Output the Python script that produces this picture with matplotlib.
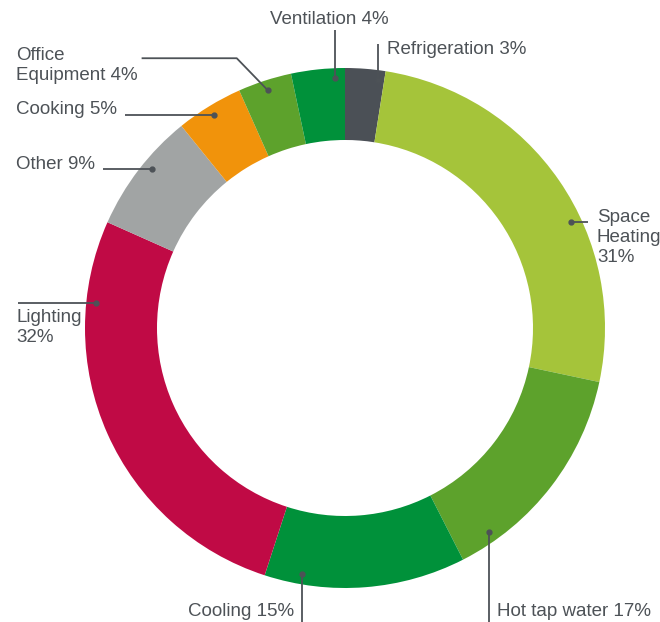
import numpy as np
import matplotlib.pyplot as plt

plt.rcParams['font.family'] = ['Liberation Sans', 'DejaVu Sans']

# energy end uses, clockwise from 12 o'clock
uses = ['Refrigeration', 'Space\nHeating', 'Hot tap water', 'Cooling', 'Lighting',
        'Other', 'Cooking', 'Office\nEquipment', 'Ventilation']
shares = [3, 31, 17, 15, 32, 9, 5, 4, 4]
# what goes between the name and its percentage
joins = [' ', '\n', ' ', ' ', '\n', ' ', ' ', ' ', ' ']
colors = ['#4b5056', '#a5c43a', '#5da22c', '#00913a', '#c00a45',
          '#a1a4a4', '#f1930b', '#5da22c', '#00913a']

# (leader style, where along the wedge the leader starts)
layout = [('up', 0.83), ('right', 0.60), ('down', 0.84), ('down_left', 0.82),
          ('left_below', 0.81), ('left', 0.57), ('left', 0.50), ('elbow', 0.50),
          ('up_center', 0.80)]

W, H = 660, 622
cx, cy, R, ring = 345, H - 328, 260, 72
ink = '#4d5257'
fs = 13.5

fig = plt.figure(figsize=(W / 100, H / 100), dpi=100)
ax = fig.add_axes([0, 0, 1, 1])
wedges, _ = ax.pie(shares, colors=colors, startangle=90, counterclock=False,
                   radius=R, center=(cx, cy),
                   wedgeprops=dict(width=ring, linewidth=0))
ax.set_xlim(0, W)
ax.set_ylim(0, H)
ax.axis('off')
renderer = fig.canvas.get_renderer()


def top(y):
    # y measured down from the top edge
    return H - y


def anchor(w, frac, r=R - 10):
    # clockwise wedges: theta2 is where the wedge begins
    a = np.radians(w.theta2 - frac * (w.theta2 - w.theta1))
    return cx + r * np.cos(a), cy + r * np.sin(a)


def leader(xs, ys):
    ax.plot(xs, ys, color=ink, lw=1.3, solid_capstyle='butt', zorder=3)
    ax.plot(xs[0], ys[0], 'o', ms=3.5, color=ink, zorder=4)


labels = [u + j + f'{s}%' for u, j, s in zip(uses, joins, shares)]
for w, text, (kind, frac) in zip(wedges, labels, layout):
    x, y = anchor(w, frac)
    kw = dict(fontsize=fs, color=ink, linespacing=1.25)
    if kind == 'up':
        leader([x, x], [y, top(44)])
        ax.text(x + 9, top(50), text, ha='left', va='center', **kw)
    elif kind == 'up_center':
        leader([x, x], [y, top(30)])
        ax.text(x - 5, top(19), text, ha='center', va='center', **kw)
    elif kind == 'right':
        leader([x, 588], [y, y])
        ax.text(597, y + 13, text, ha='left', va='top', **kw)
    elif kind == 'down':
        leader([x, x], [y, 0])
        ax.text(x + 8, top(612), text, ha='left', va='center', **kw)
    elif kind == 'down_left':
        leader([x, x], [y, 0])
        ax.text(x - 8, top(612), text, ha='right', va='center', **kw)
    elif kind == 'left_below':
        leader([x, 18], [y, y])
        ax.text(16, y - 6, text, ha='left', va='top', **kw)
    elif kind == 'left':
        t = ax.text(16, y + 5, text, ha='left', va='center', **kw)
        x0 = t.get_window_extent(renderer).x1 + 8
        leader([x, x0], [y, y])
    elif kind == 'elbow':
        t = ax.text(16, y + 25, text, ha='left', va='center', **kw)
        x0 = t.get_window_extent(renderer).x1 + 4
        leader([x, x - 31, x0], [y, y + 32, y + 32])

fig.savefig('out.png', dpi=100)
